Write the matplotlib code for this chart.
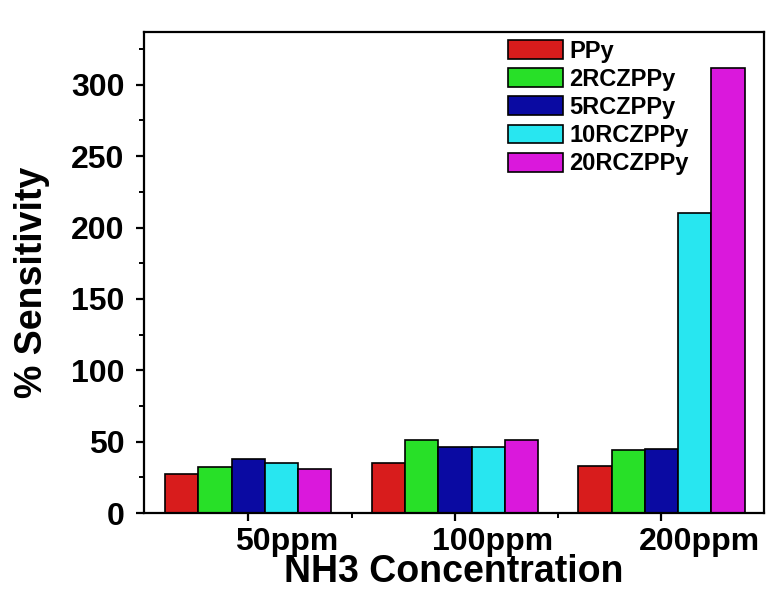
import matplotlib
matplotlib.use("Agg")
import matplotlib.pyplot as plt
import matplotlib.transforms as mtransforms
import numpy as np

plt.rcParams['font.family'] = ['Liberation Sans', 'DejaVu Sans']
plt.rcParams['font.weight'] = 'bold'

groups = ['50ppm', '100ppm', '200ppm']
series = ['PPy', '2RCZPPy', '5RCZPPy', '10RCZPPy', '20RCZPPy']
PPy = [27, 34.8, 33]
RCZ2 = [32.5, 51, 44]
RCZ5 = [37.6, 46.5, 45]
RCZ10 = [35.3, 46.5, 210]
RCZ20 = [30.6, 51.5, 312]
colors = ['#d81c1c', '#28e028', '#0a0aa2', '#28e6f0', '#da18dc']

values = [PPy, RCZ2, RCZ5, RCZ10, RCZ20]

x = np.arange(len(groups))  # group centres
width = 0.161               # width of one bar

fig = plt.figure(figsize=(7.66, 5.92), dpi=100)
ax = fig.add_axes([0.188, 0.1334, 0.809, 0.8126])

for i, (vals, name, c) in enumerate(zip(values, series, colors)):
    ax.bar(x + (i - 2) * width, vals, width, color=c, edgecolor='black',
           linewidth=1.2, label=name)

ax.set_xlim(-0.505, 2.495)
ax.set_ylim(0, 337)
ax.set_yticks(np.arange(0, 301, 50))
ax.set_yticks(np.arange(25, 330, 50), minor=True)
ax.set_xticks(x)
ax.set_xticks([0.5, 1.5], minor=True)
ax.set_xticklabels(groups)

for s in ax.spines.values():
    s.set_linewidth(1.6)

ax.tick_params(which='major', direction='out', length=6, width=1.6,
               labelsize=23, pad=4)
ax.tick_params(which='minor', direction='out', length=3.5, width=1.4)
ax.tick_params(axis='y', pad=8)

# Origin-style labels sit to the right of their ticks
offset = mtransforms.ScaledTranslation(38 / 100, 0, fig.dpi_scale_trans)
for lab in ax.get_xticklabels():
    lab.set_transform(lab.get_transform() + offset)

ax.set_xlabel('NH3 Concentration', fontsize=27, fontweight='bold', labelpad=-2)
ax.set_ylabel('% Sensitivity', fontsize=27, fontweight='bold')
ax.yaxis.set_label_coords(-0.152, 0.48)

ax.legend(loc='upper left', bbox_to_anchor=(0.663, 0.933),
          bbox_transform=fig.transFigure, frameon=False, fontsize=17,
          handlelength=2.35, handleheight=0.85, handletextpad=0.25,
          labelspacing=0.22, borderpad=0, borderaxespad=0)

fig.savefig('out.png', dpi=100)
